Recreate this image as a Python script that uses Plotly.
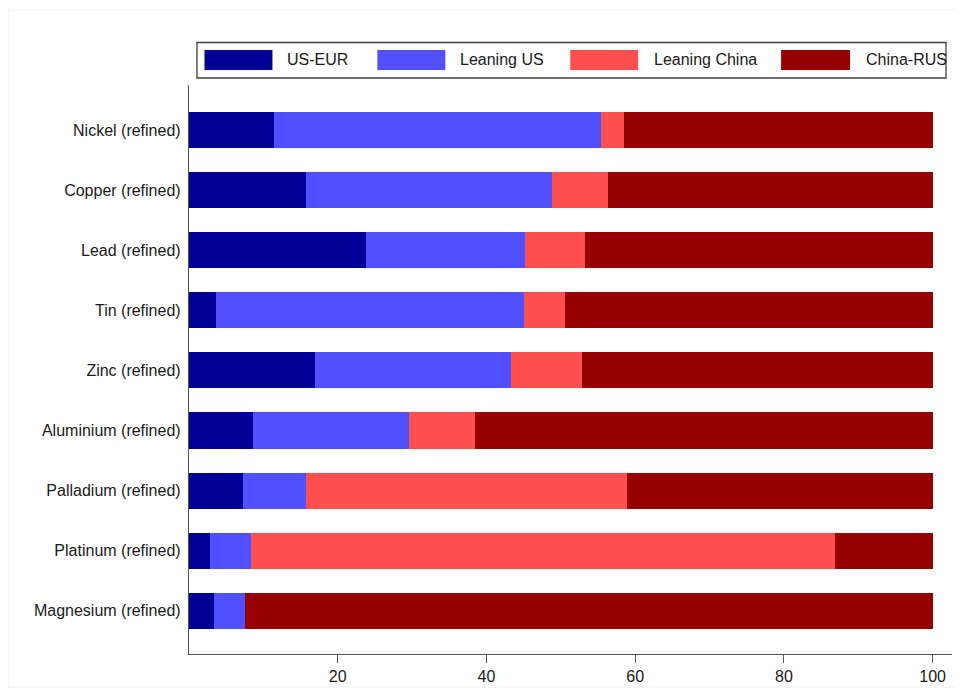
import plotly.graph_objects as go

categories = ["Nickel (refined)", "Copper (refined)", "Lead (refined)", "Tin (refined)",
              "Zinc (refined)", "Aluminium (refined)", "Palladium (refined)",
              "Platinum (refined)", "Magnesium (refined)"]
us_eur = [11.4, 15.7, 23.8, 3.6, 17.0, 8.6, 7.2, 2.8, 3.4]
leaning_us = [44.0, 33.1, 21.4, 41.4, 26.3, 21.0, 8.5, 5.5, 4.1]
leaning_china = [3.1, 7.5, 8.0, 5.5, 9.5, 8.9, 43.2, 78.6, 0.0]
china_rus = [41.5, 43.7, 46.8, 49.5, 47.2, 61.5, 41.1, 13.1, 92.5]

series_names = ["US-EUR", "Leaning US", "Leaning China", "China-RUS"]
series_values = [us_eur, leaning_us, leaning_china, china_rus]
colors = ["#000096", "#5050FF", "#FF5050", "#960000"]
x_ticks = [20, 40, 60, 80, 100]

FONT = "Liberation Sans, Arial, sans-serif"

fig = go.Figure()
for name, vals, col in zip(series_names, series_values, colors):
    fig.add_trace(go.Bar(
        y=categories, x=vals, name=name, orientation="h",
        marker=dict(color=col, line=dict(width=0)), width=0.6,
        showlegend=False,
    ))

OFF = 8  # page body margin
W, H = 964 - OFF, 688 - OFF
# page-space plot area
PL, PR, PT, PB = 188.5, 952, 85, 654
L, T = PL - OFF, PT - OFF
R, B = W - (PR - OFF), H - (PB - OFF)
pw, ph = PR - PL, PB - PT

def px(x):
    return (x - PL) / pw

def py(y):
    return (PB - y) / ph

shapes = []
annotations = []
# outer faint border
shapes.append(dict(type="rect", xref="paper", yref="paper",
                   x0=px(7.5), x1=px(963), y0=py(10), y1=py(687),
                   line=dict(color="#f0f0f0", width=1), fillcolor="rgba(0,0,0,0)", layer="below"))
# legend box
shapes.append(dict(type="rect", xref="paper", yref="paper",
                   x0=px(196.5), x1=px(946), y0=py(42.5), y1=py(78),
                   line=dict(color="#404040", width=1.3), fillcolor="white"))
sw_x = [(204, 272), (377, 445), (570, 638), (781, 850)]
txt_x = [285, 458, 652, 864]
for (a, b), tx, name, col in zip(sw_x, txt_x, series_names, colors):
    shapes.append(dict(type="rect", xref="paper", yref="paper",
                       x0=px(a), x1=px(b), y0=py(50), y1=py(70),
                       line=dict(width=0), fillcolor=col))
    annotations.append(dict(xref="paper", yref="paper", x=px(tx), y=py(60),
                            text=name, showarrow=False, xanchor="left", yanchor="middle",
                            font=dict(family=FONT, size=16, color="#1a1a1a")))

fig.update_layout(
    template="none",
    width=W, height=H,
    margin=dict(l=L, r=R, t=T, b=B, pad=0),
    paper_bgcolor="white", plot_bgcolor="white",
    barmode="stack",
    font=dict(family=FONT, size=16, color="#1a1a1a"),
    shapes=shapes, annotations=annotations,
    xaxis=dict(range=[0, 102.6], tickvals=x_ticks, ticks="outside", ticklen=8,
               tickcolor="#555555", tickwidth=1.2, showgrid=False, zeroline=False,
               showline=True, linecolor="#555555", linewidth=1.3, automargin=False,
               tickfont=dict(family=FONT, size=16, color="#1a1a1a")),
    yaxis=dict(categoryorder="array", categoryarray=categories,
               range=[8.72, -0.75], showgrid=False, zeroline=False,
               showline=True, linecolor="#555555", linewidth=1.3, automargin=False,
               ticks="", ticklabelstandoff=4,
               tickfont=dict(family=FONT, size=16, color="#1a1a1a")),
)

fig.write_html("out.html")
